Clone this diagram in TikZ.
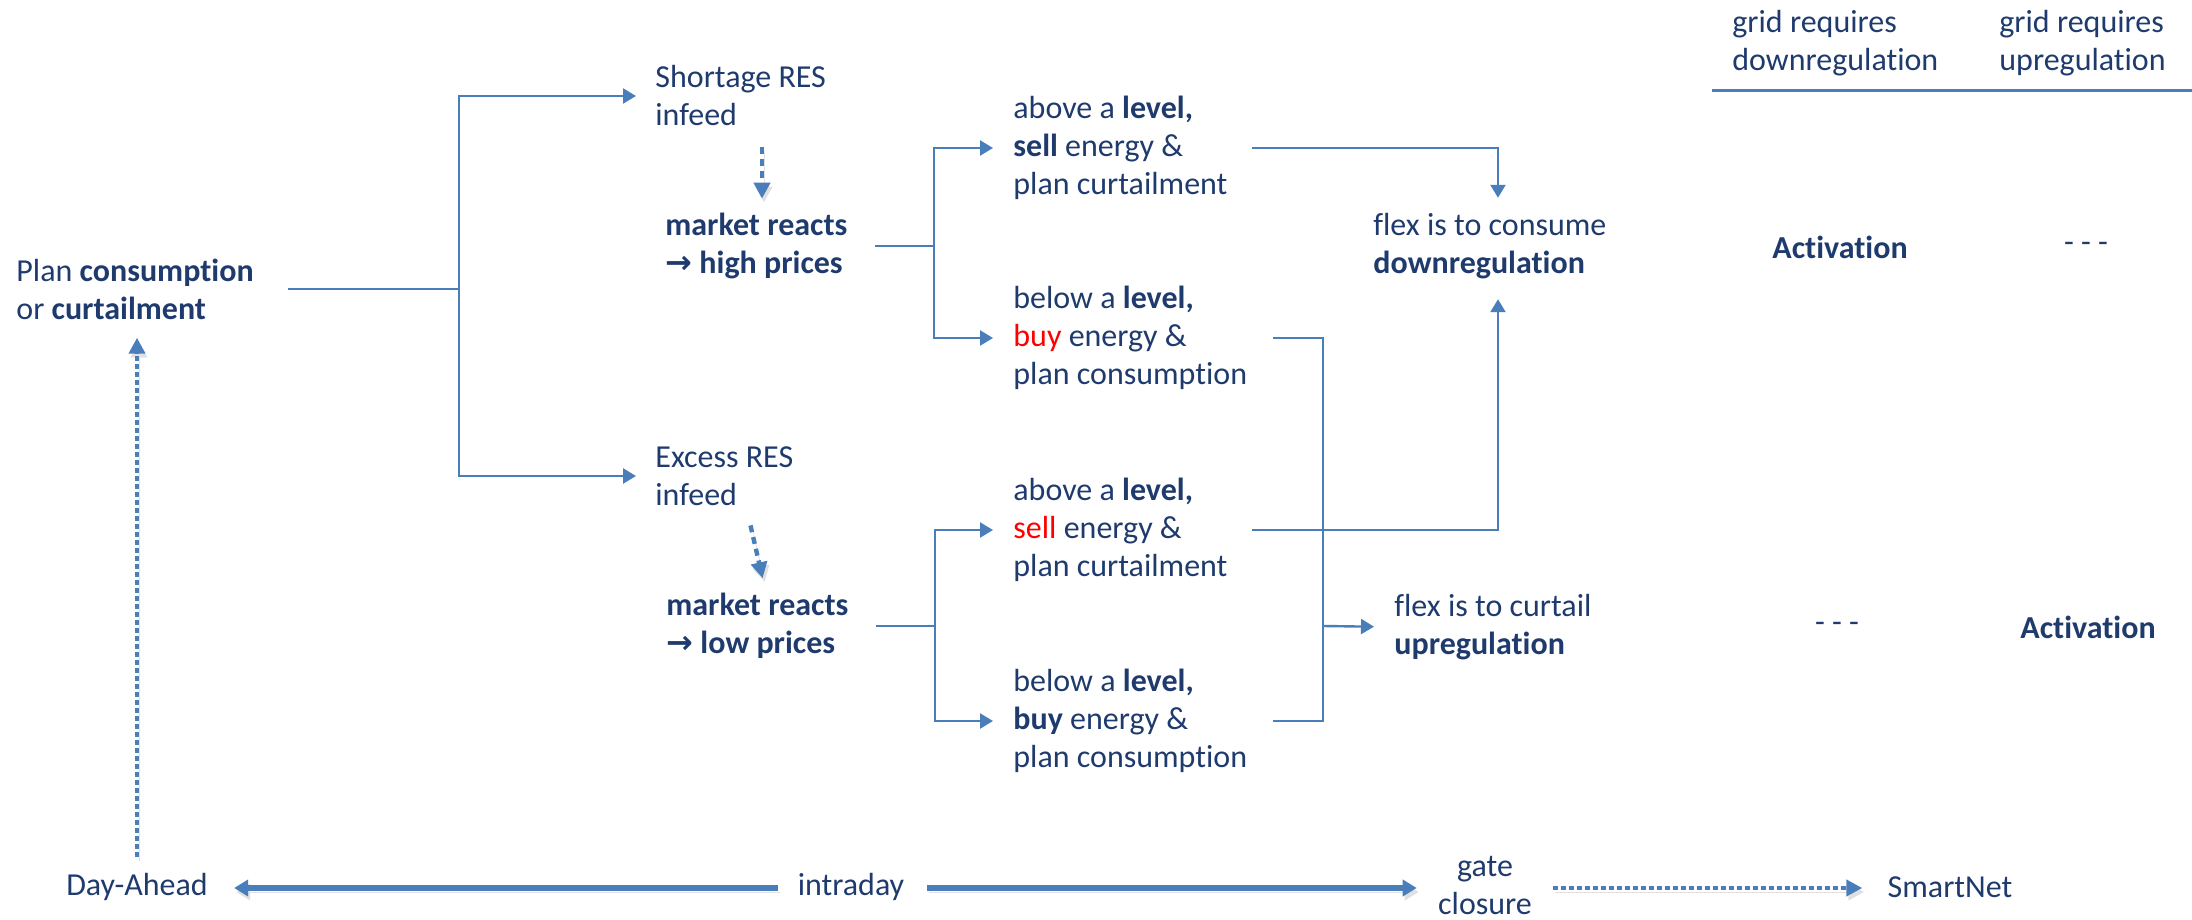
\documentclass[tikz,border=0pt]{standalone}
\usepackage{fontspec}
\setmainfont{Carlito}[Ligatures=NoCommon]
\newfontfamily\symf{DejaVu Sans}
\usetikzlibrary{arrows.meta}
\definecolor{txt}{HTML}{1F3B6E}
\definecolor{ln}{HTML}{4A7EBB}
\definecolor{rd}{HTML}{FF0000}
\newcommand{\rarr}{{\symf\bfseries →}}
\begin{document}
\begin{tikzpicture}[x=0.5pt,y=-0.5pt,
  lbl/.style={inner sep=0pt, text=txt, font=\fontsize{16}{19}\selectfont, align=left, anchor=west},
  clbl/.style={lbl, anchor=center, align=center},
  conn/.style={draw=ln, line width=1.2pt},
  arr/.style={conn, -{Triangle[length=6.5pt,width=7.5pt]}},
  shad/.style={preaction={draw=black!12, transform canvas={shift={(1pt,-2pt)}}}},
  bigarr/.style={draw=ln, line width=2.6pt, -{Triangle[length=7pt,width=8pt]}, shad},
  dotarr/.style={draw=ln, line width=2.4pt, dash pattern=on 2.4pt off 1.6pt, -{Triangle[length=8pt,width=8pt]}, shad},
  dasharr/.style={draw=ln, line width=2.2pt, dash pattern=on 3.5pt off 2.5pt, -{Triangle[length=8pt,width=8pt]}, shad},
]
\useasboundingbox (0,0) rectangle (2192,920);

% nodes
\node[lbl] (plan) at (16,289) {Plan \textbf{consumption}\\or \textbf{curtailment}};
\node[lbl] (short) at (655,96) {Shortage RES\\infeed};
\node[lbl] (mhigh) at (665,246) {\textbf{market reacts}\\\textbf{\rarr\ high prices}};
\node[lbl] (as1) at (1013,148) {above a \textbf{level,}\\\textbf{sell} energy \&\\plan curtailment};
\node[lbl] (bb1) at (1013,338) {below a \textbf{level,}\\\textcolor{rd}{buy} energy \&\\plan consumption};
\node[lbl] (excess) at (655,476) {Excess RES\\infeed};
\node[lbl] (mlow) at (666,626) {\textbf{market reacts}\\\textbf{\rarr\ low prices}};
\node[lbl] (as2) at (1013,530) {above a \textbf{level,}\\\textcolor{rd}{sell} energy \&\\plan curtailment};
\node[lbl] (bb2) at (1013,721) {below a \textbf{level,}\\\textbf{buy} energy \&\\plan consumption};
\node[lbl] (fcons) at (1373,246) {flex is to consume\\\textbf{downregulation}};
\node[lbl] (fcurt) at (1394,627) {flex is to curtail\\\textbf{upregulation}};
\node[lbl] (hd) at (1732,43) {grid requires\\downregulation};
\node[lbl] (hu) at (1999,43) {grid requires\\upregulation};
\node[clbl] (act1) at (1840,247) {\textbf{Activation}};
\node[clbl] (dsh1) at (2086,247) {- - -};
\node[clbl] (dsh2) at (1837,627) {- - -};
\node[clbl] (act2) at (2088,627) {\textbf{Activation}};
\node[clbl] (da) at (137,887) {Day-Ahead};
\node[clbl] (intra) at (851,887) {intraday};
\node[clbl] (gate) at (1485,885) {gate\\closure};
\node[clbl] (smart) at (1950,887) {SmartNet};

% coordinates
\coordinate (j0) at (459,289);
\coordinate (jh) at (934,247);
\coordinate (jl) at (935,626);
\coordinate (cx) at (1498,0);
\coordinate (jc) at (1323,626);
\coordinate (dx1) at (762,0);
\coordinate (dx2a) at (746,0);
\coordinate (dx2b) at (766,0);
\coordinate (hl) at (1712,91);
\coordinate (hr) at (2192,91);
\coordinate (tl) at (0,888);

% header rule
\draw[draw=ln, line width=1.5pt] (hl) -- (hr);

% tree
\draw[arr, shorten <=17pt, shorten >=9.5pt] (plan.east) -- (plan.east -| j0) |- (short.west);
\draw[arr, shorten >=9.5pt] (plan.east -| j0) |- (excess.west);

\draw[dasharr, shorten <=10pt, shorten >=7pt] (short.south -| dx1) -- (mhigh.north -| dx1);
\draw[dasharr, shorten <=10pt, shorten >=7.5pt] (excess.south -| dx2a) -- (mlow.north -| dx2b);

\draw[arr, shorten <=13.5pt, shorten >=10pt] (mhigh.east) -- (mhigh.east -| jh) |- (as1.west);
\draw[arr, shorten >=10pt] (mhigh.east -| jh) |- (bb1.west);
\draw[arr, shorten <=13.5pt, shorten >=10pt] (mlow.east) -- (mlow.east -| jl) |- (as2.west);
\draw[arr, shorten >=10pt] (mlow.east -| jl) |- (bb2.west);

\draw[arr, shorten <=12pt, shorten >=7.5pt] (as1.east) -- (as1.east -| cx) -- (cx |- fcons.north);
\draw[arr, shorten <=12pt, shorten >=10pt] (as2.east) -- (as2.east -| cx) -- (cx |- fcons.south);

\draw[conn, shorten <=12.5pt] (bb1.east) -| (jc);
\draw[conn, shorten <=12.5pt] (bb2.east) -| (jc);
\draw[arr, shorten >=10pt] (jc) -- (fcurt.west);

% timeline
\draw[dotarr, shorten <=8pt, shorten >=9pt] (da.north) -- (da.north |- plan.south);
\draw[bigarr, shorten <=9.5pt, shorten >=13pt] (intra.west |- tl) -- (da.east |- tl);
\draw[bigarr, shorten <=11pt, shorten >=10.5pt] (intra.east |- tl) -- (gate.west |- tl);
\draw[dotarr, shorten <=10.5pt, shorten >=12.5pt] (gate.east |- tl) -- (smart.west |- tl);
\end{tikzpicture}
\end{document}
